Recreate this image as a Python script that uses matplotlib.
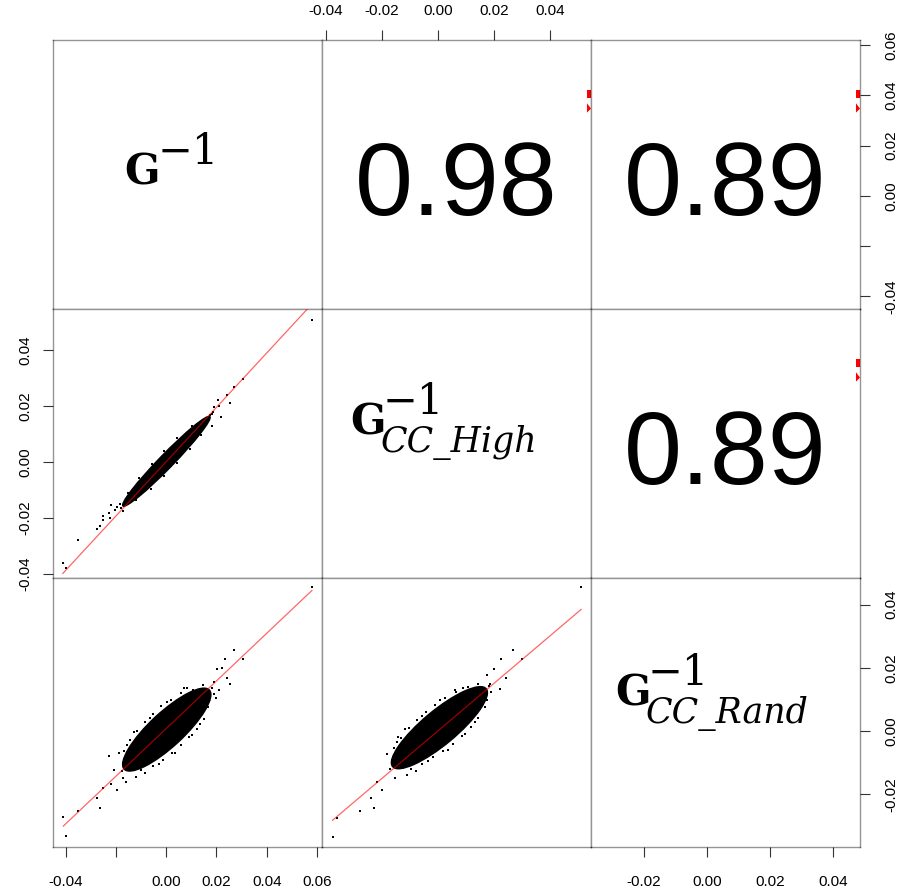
import math
import matplotlib
matplotlib.use('Agg')
import matplotlib.pyplot as plt
from matplotlib.patches import Polygon, Ellipse
import matplotlib.transforms as mtransforms

# ---------------- data ----------------
lim_g = (-0.0450, 0.0620)
lim_high = (-0.0414, 0.0546)
lim_rand = (-0.0366, 0.0484)

ticks_g = [-0.04, -0.02, 0.00, 0.02, 0.04, 0.06]
ticklabels_g = ['-0.04', '', '0.00', '0.02', '0.04', '0.06']
ticks_high = [-0.04, -0.02, 0.00, 0.02, 0.04]
ticklabels_high = ['-0.04', '-0.02', '0.00', '0.02', '0.04']
ticks_rand = [-0.02, 0.00, 0.02, 0.04]
ticklabels_rand = ['-0.02', '0.00', '0.02', '0.04']

corr_high_g = 0.98
corr_rand_g = 0.89
corr_rand_high = 0.89

# panel (2,1): x = G^-1, y = G_CC_High  (outliers + edge points of the dense cloud)
p21_x = [0.0579, -0.0411, -0.0398, -0.0349, -0.0276, -0.0263, -0.0252, -0.0250, -0.0227,
         -0.0223, -0.0220, -0.0194, -0.0203, 0.0205, 0.0218, 0.0241, 0.0254, 0.0270, 0.0307,
         0.0181, 0.0192, 0.0212,
         -0.0120, -0.0152, -0.0062, -0.0108, -0.0008, -0.0058, 0.0044, -0.0008, 0.0093, 0.0045,
         0.0139, 0.0103, 0.0182, -0.0180, -0.0185, -0.0172, 0.0188, 0.0176]
p21_y = [0.0507, -0.0360, -0.0379, -0.0279, -0.0239, -0.0229, -0.0208, -0.0191, -0.0182,
         -0.0200, -0.0155, -0.0160, -0.0172, 0.0222, 0.0160, 0.0240, 0.0212, 0.0266, 0.0297,
         0.0129, 0.0198, 0.0201,
         -0.0137, -0.0111, -0.0095, -0.0057, -0.0051, -0.0007, -0.0004, 0.0040, 0.0046, 0.0086,
         0.0097, 0.0129, 0.0170, -0.0164, -0.0150, -0.0175, 0.0180, 0.0168]
p21_cloud_a = (-0.0172, -0.0157)
p21_cloud_b = (0.0174, 0.0162)
p21_slope, p21_intercept = 0.970, 0.0001

# panel (3,1): x = G^-1, y = G_CC_Rand
p31_x = [0.0580, -0.0409, -0.0398, -0.0350, -0.0276, -0.0262, -0.0251, -0.0228, -0.0220,
         -0.0206, -0.0195, -0.0188, -0.0173, -0.0161, 0.0271, 0.0305, 0.0234, 0.0202, 0.0221,
         0.0242, 0.0256, 0.0212,
         -0.0098, -0.0166, -0.0054, -0.0142, -0.0012, -0.0115, 0.0024, -0.0086, 0.0060, -0.0052,
         0.0092, -0.0019, 0.0122, 0.0018, 0.0149, 0.0058, 0.0166, 0.0108, 0.0182, -0.0176,
         -0.0085, -0.0155, -0.0030, -0.0128, 0.0036, -0.0066, 0.0101, 0.0004, 0.0136, 0.0084,
         0.0172, 0.0146, 0.0190, -0.0170, 0.0190, 0.0197, -0.0120, 0.0070]
p31_y = [0.0454, -0.0272, -0.0332, -0.0251, -0.0210, -0.0242, -0.0179, -0.0080, -0.0167,
         -0.0122, -0.0187, -0.0069, -0.0148, -0.0161, 0.0258, 0.0229, 0.0227, 0.0197, 0.0199,
         0.0169, 0.0150, 0.0129,
         -0.0124, -0.0062, -0.0110, -0.0028, -0.0091, 0.0002, -0.0068, 0.0028, -0.0045, 0.0054,
         -0.0018, 0.0078, 0.0008, 0.0100, 0.0038, 0.0120, 0.0076, 0.0130, 0.0137, -0.0127,
         -0.0132, -0.0044, -0.0103, -0.0003, -0.0068, 0.0042, -0.0012, 0.0092, 0.0023, 0.0135,
         0.0095, 0.0145, 0.0118, -0.0100, 0.0155, 0.0105, -0.0145, 0.0135]
p31_cloud_a = (-0.0167, -0.0120)
p31_cloud_b = (0.0172, 0.0130)
p31_slope, p31_intercept = 0.753, 0.0008

# panel (3,2): x = G_CC_High, y = G_CC_Rand
p32_x = [0.0511, -0.0376, -0.0362, -0.0280, -0.0227, -0.0238, -0.0218, -0.0199, -0.0181,
         -0.0155, -0.0144, 0.0267, 0.0298, 0.0224, 0.0201, 0.0241, 0.0221, 0.0175, 0.0155,
         -0.0098, -0.0157, -0.0056, -0.0132, -0.0017, -0.0105, 0.0018, -0.0075, 0.0053, -0.0043,
         0.0085, -0.0009, 0.0116, 0.0026, 0.0143, 0.0064, 0.0167, 0.0106, 0.0181, -0.0171,
         -0.0080, -0.0146, -0.0034, -0.0117, 0.0037, -0.0058, 0.0097, 0.0008, 0.0131, 0.0088,
         0.0175, 0.0144, 0.0190, -0.0163, 0.0185, -0.0110, 0.0060]
p32_y = [0.0454, -0.0333, -0.0274, -0.0251, -0.0242, -0.0210, -0.0161, -0.0187, -0.0072,
         -0.0148, -0.0019, 0.0258, 0.0227, 0.0227, 0.0197, 0.0169, 0.0132, 0.0178, 0.0081,
         -0.0118, -0.0054, -0.0103, -0.0021, -0.0083, 0.0009, -0.0062, 0.0036, -0.0039, 0.0061,
         -0.0014, 0.0084, 0.0013, 0.0105, 0.0043, 0.0125, 0.0076, 0.0140, 0.0142, -0.0120,
         -0.0125, -0.0034, -0.0095, 0.0007, -0.0058, 0.0047, -0.0008, 0.0097, 0.0028, 0.0137,
         0.0100, 0.0150, 0.0125, -0.0090, 0.0150, -0.0140, 0.0130]
p32_cloud_a = (-0.0162, -0.0112)
p32_cloud_b = (0.0172, 0.0134)
p32_slope, p32_intercept = 0.751, 0.0001

# ---------------- figure ----------------
W, H = 909, 890
fig = plt.figure(figsize=(W / 100, H / 100), dpi=100)
LEFT, TOP, SIZE = 53, 40, 269
lims = [lim_g, lim_high, lim_rand]

tick_font = dict(family=['Liberation Sans Narrow', 'Liberation Sans', 'DejaVu Sans'], size=11)
spine_col = (0, 0, 0, 0.42)

axes = [[None] * 3 for _ in range(3)]
for r in range(3):
    for c in range(3):
        rect = [(LEFT + c * SIZE) / W, 1 - (TOP + (r + 1) * SIZE) / H, SIZE / W, SIZE / H]
        ax = fig.add_axes(rect)
        ax.set_xlim(*lims[c])
        ax.set_ylim(*lims[r])
        ax.set_xticks([])
        ax.set_yticks([])
        for s in ax.spines.values():
            s.set_color(spine_col)
            s.set_linewidth(1.0)
        axes[r][c] = ax


def style_ticks(ax, axis, ticks, labels, side, pad):
    if axis == 'x':
        ax.set_xticks(ticks)
        ax.set_xticklabels(labels, fontdict=tick_font)
        if side == 'top':
            ax.xaxis.tick_top()
        ax.tick_params(axis='x', length=7.5, width=0.8, color='#333333', pad=pad)
    else:
        ax.set_yticks(ticks)
        ax.set_yticklabels(labels, fontdict=tick_font, rotation=90, va='center')
        if side == 'right':
            ax.yaxis.tick_right()
        ax.tick_params(axis='y', length=7.5, width=0.8, color='#333333', pad=pad)
        for lab in ax.get_yticklabels():
            lab.set_va('center')


style_ticks(axes[2][0], 'x', ticks_g, ticklabels_g, 'bottom', 13)
style_ticks(axes[0][1], 'x', ticks_high, ticklabels_high, 'top', 8)
style_ticks(axes[2][2], 'x', ticks_rand, ticklabels_rand, 'bottom', 13)
style_ticks(axes[0][2], 'y', ticks_g, ticklabels_g, 'right', 10)
style_ticks(axes[1][0], 'y', ticks_high, ticklabels_high, 'left', 7.5)
style_ticks(axes[2][2], 'y', ticks_rand, ticklabels_rand, 'right', 10)


def draw_cloud(ax, a, b, thick_px):
    pa = ax.transData.transform(a)
    pb = ax.transData.transform(b)
    cx, cy = (pa[0] + pb[0]) / 2, (pa[1] + pb[1]) / 2
    dx, dy = pb[0] - pa[0], pb[1] - pa[1]
    length = math.hypot(dx, dy)
    ang = math.degrees(math.atan2(dy, dx))
    ax.add_patch(Ellipse((cx, cy), length, thick_px, angle=ang,
                         transform=mtransforms.IdentityTransform(),
                         facecolor='black', edgecolor='black', linewidth=1.0, zorder=2))


lower = [
    (axes[1][0], p21_x, p21_y, p21_cloud_a, p21_cloud_b, 14, p21_slope, p21_intercept),
    (axes[2][0], p31_x, p31_y, p31_cloud_a, p31_cloud_b, 34, p31_slope, p31_intercept),
    (axes[2][1], p32_x, p32_y, p32_cloud_a, p32_cloud_b, 34, p32_slope, p32_intercept),
]
for ax, xs, ys, ca, cb, th, slope, icpt in lower:
    draw_cloud(ax, ca, cb, th)
    ax.scatter(xs, ys, s=3, marker='s', color='black', linewidths=0, zorder=3)
    x0, x1 = min(xs), max(xs)
    ax.plot([x0, x1], [icpt + slope * x0, icpt + slope * x1], color='red', lw=0.9,
            alpha=0.6, zorder=4)

# upper panels: correlations
num_font = dict(family=['Liberation Sans', 'DejaVu Sans'], size=75)
for ax, val in [(axes[0][1], corr_high_g), (axes[0][2], corr_rand_g), (axes[1][2], corr_rand_high)]:
    ax.text(0.5, 0.349, f'{val:.2f}', transform=ax.transAxes, ha='center', va='baseline',
            fontdict=num_font)

# small red marks clipped at the right edge of the upper panels
for ax in [axes[0][1], axes[0][2], axes[1][2]]:
    ax.add_patch(Polygon([(0.985, 0.785), (1.0, 0.785), (1.0, 0.815), (0.985, 0.815)],
                         closed=True, transform=ax.transAxes, facecolor='red',
                         edgecolor='none', clip_on=True))
    ax.add_patch(Polygon([(0.985, 0.765), (0.985, 0.73), (1.0, 0.745)],
                         closed=True, transform=ax.transAxes, facecolor='red',
                         edgecolor='none', clip_on=True))

# diagonal labels
serif = ['DejaVu Serif']


def diag_label(ax, xa, ya, sub):
    base = ax.transAxes
    ax.text(xa, ya, 'G', transform=base, family=serif, fontweight='bold', fontsize=30,
            ha='left', va='baseline')
    tr_sup = mtransforms.offset_copy(base, fig=fig, x=33, y=21, units='dots')
    ax.text(xa, ya, '\u22121', transform=tr_sup, family=serif, fontsize=30,
            ha='left', va='baseline')
    if sub:
        tr_sub = mtransforms.offset_copy(base, fig=fig, x=31, y=-17, units='dots')
        ax.text(xa, ya, sub, transform=tr_sub, family=serif, fontstyle='italic',
                fontsize=25, ha='left', va='baseline')


diag_label(axes[0][0], 0.265, 0.461, None)
diag_label(axes[1][1], 0.104, 0.532, 'CC_High')
diag_label(axes[2][2], 0.089, 0.525, 'CC_Rand')

fig.savefig('out.png', dpi=100)
